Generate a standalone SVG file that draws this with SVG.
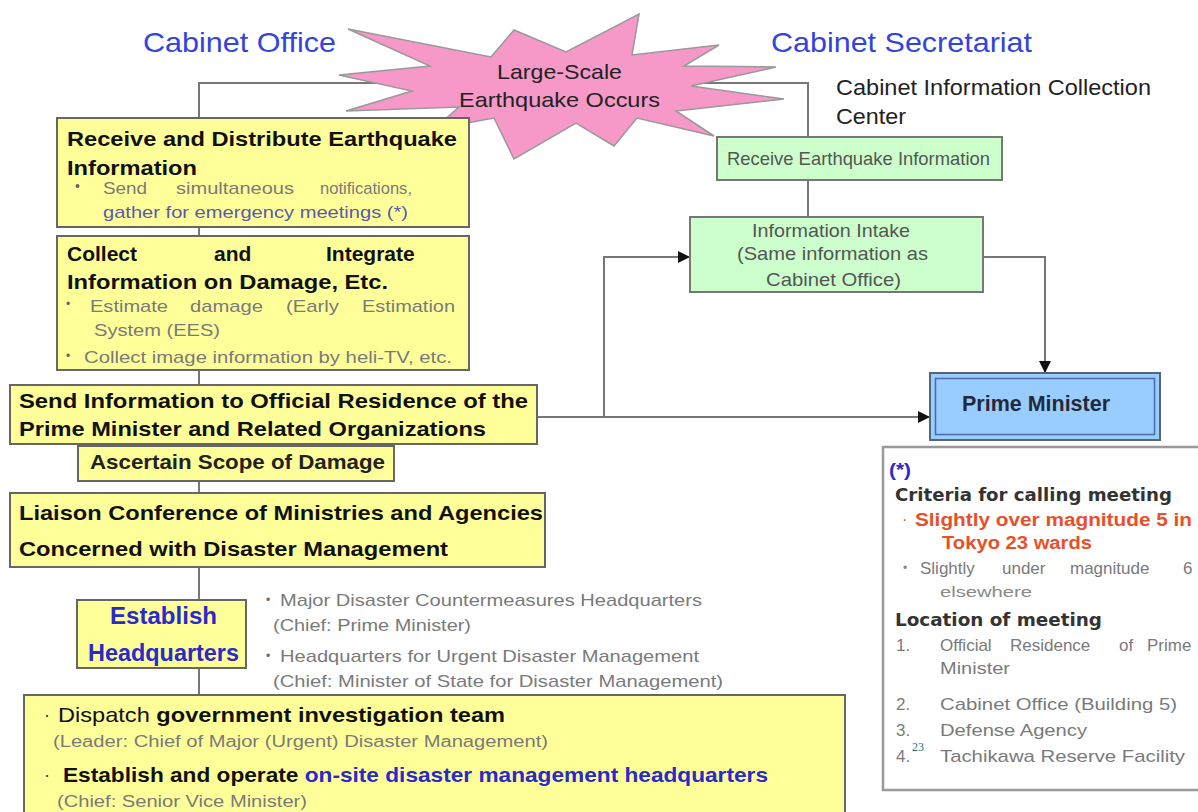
<svg xmlns="http://www.w3.org/2000/svg" width="1198" height="812" viewBox="0 0 1198 812">
<defs>
<marker id="arr" viewBox="0 0 12 12" refX="11" refY="6" markerWidth="12" markerHeight="12" markerUnits="userSpaceOnUse" orient="auto">
<path d="M0,0 L12,6 L0,12 Z" fill="#111"/>
</marker>
</defs>
<style>
text{font-family:"Liberation Sans",Arial,sans-serif}
.yb{fill:#ffff99;stroke:#666;stroke-width:2}
.gb{fill:#ccffcc;stroke:#777;stroke-width:2}
.h{font-size:21px;font-weight:bold;fill:#111}
.g{font-size:17px;fill:#7a7a7a}
.gs{font-size:16px;fill:#7a7a7a}
.hd{font-size:28px;fill:#3344dd}
.gt{font-size:19px;fill:#555}
.nb{font-family:"DejaVu Sans",Verdana,sans-serif;font-size:17px;font-weight:bold;fill:#333}
.con{fill:none;stroke:#777;stroke-width:2}
.blue{fill:#2a2acc}
.red{fill:#e8502a}
</style>
<rect width="1198" height="812" fill="#fff"/>

<g id="connectors">
<path class="con" d="M420,83 H199 V695"/>
<path class="con" d="M700,83 H808 V138"/>
<path class="con" d="M808,180 V217"/>
<path class="con" d="M983,257 H1045 V372" marker-end="url(#arr)"/>
<path class="con" d="M537,417 H929" marker-end="url(#arr)"/>
<path class="con" d="M604,417 V257 H689" marker-end="url(#arr)"/>
</g>

<g id="title-cabinet-office"><text class="hd" x="143" y="52" textLength="193" lengthAdjust="spacingAndGlyphs">Cabinet Office</text></g>
<g id="title-cabinet-secretariat"><text class="hd" x="771" y="52" textLength="261" lengthAdjust="spacingAndGlyphs">Cabinet Secretariat</text></g>

<g id="quake">
<polygon points="348,29 491,57 514,30 566,52 639,14 632,55 719,45 684,66 776,67 691,86 784,99 676,111 714,136 637,118 614,146 576,123 514,159 494,118 434,129 459,107 346,111 412,91 339,75 430,66" fill="#f799c8" stroke="#999" stroke-width="1.5"/>
<text x="497" y="79" font-size="21" fill="#222" textLength="125" lengthAdjust="spacingAndGlyphs">Large-Scale</text>
<text x="459" y="107" font-size="21" fill="#222" textLength="201" lengthAdjust="spacingAndGlyphs">Earthquake Occurs</text>
</g>

<g id="ciccc">
<text x="836" y="95" font-size="22" fill="#222" textLength="315" lengthAdjust="spacingAndGlyphs">Cabinet Information Collection</text>
<text x="836" y="124" font-size="22" fill="#222" textLength="70" lengthAdjust="spacingAndGlyphs">Center</text>
</g>

<g id="receive-distribute">
<rect class="yb" x="57" y="118" width="412" height="109"/>
<text class="h" x="67" y="146" textLength="390" lengthAdjust="spacingAndGlyphs">Receive and Distribute Earthquake</text>
<text class="h" x="67" y="175" textLength="130" lengthAdjust="spacingAndGlyphs">Information</text>
<text x="75" y="191" font-size="14" fill="#666">•</text>
<text class="g" x="103" y="194" textLength="44" lengthAdjust="spacingAndGlyphs">Send</text>
<text class="g" x="176" y="194" textLength="118" lengthAdjust="spacingAndGlyphs">simultaneous</text>
<text class="g" x="320" y="194" textLength="92" lengthAdjust="spacingAndGlyphs">notifications,</text>
<text class="g" x="103" y="218" style="fill:#5a5aaa" textLength="305" lengthAdjust="spacingAndGlyphs">gather for emergency meetings (*)</text>
</g>

<g id="collect-integrate">
<rect class="yb" x="57" y="236" width="412" height="134"/>
<text class="h" y="261"><tspan x="67">Collect</tspan><tspan x="214">and</tspan><tspan x="326">Integrate</tspan></text>
<text class="h" x="67" y="289" textLength="321" lengthAdjust="spacingAndGlyphs">Information on Damage, Etc.</text>
<text x="66" y="308" font-size="12" fill="#666">•</text>
<text class="g" x="90" y="312" textLength="78" lengthAdjust="spacingAndGlyphs">Estimate</text>
<text class="g" x="190" y="312" textLength="73" lengthAdjust="spacingAndGlyphs">damage</text>
<text class="g" x="286" y="312" textLength="53" lengthAdjust="spacingAndGlyphs">(Early</text>
<text class="g" x="362" y="312" textLength="93" lengthAdjust="spacingAndGlyphs">Estimation</text>
<text class="g" x="94" y="336" textLength="126" lengthAdjust="spacingAndGlyphs">System (EES)</text>
<text x="66" y="360" font-size="12" fill="#666">•</text>
<text class="g" x="84" y="363" textLength="368" lengthAdjust="spacingAndGlyphs">Collect image information by heli-TV, etc.</text>
</g>

<g id="send-info">
<rect class="yb" x="10" y="385" width="527" height="59"/>
<text class="h" x="19" y="408" textLength="509" lengthAdjust="spacingAndGlyphs">Send Information to Official Residence of the</text>
<text class="h" x="19" y="436" textLength="467" lengthAdjust="spacingAndGlyphs">Prime Minister and Related Organizations</text>
</g>

<g id="ascertain">
<rect class="yb" x="78" y="446" width="316" height="35"/>
<text x="90" y="469" font-size="21" font-weight="bold" fill="#222" textLength="295" lengthAdjust="spacingAndGlyphs">Ascertain Scope of Damage</text>
</g>

<g id="liaison">
<rect class="yb" x="10" y="493" width="535" height="74"/>
<text class="h" x="19" y="520" textLength="524" lengthAdjust="spacingAndGlyphs">Liaison Conference of Ministries and Agencies</text>
<text class="h" x="19" y="556" textLength="429" lengthAdjust="spacingAndGlyphs">Concerned with Disaster Management</text>
</g>

<g id="establish-hq">
<rect class="yb" x="77" y="600" width="169" height="68"/>
<text x="110" y="624" font-size="23" font-weight="bold" class="blue" textLength="107" lengthAdjust="spacingAndGlyphs">Establish</text>
<text x="88" y="661" font-size="23" font-weight="bold" class="blue" textLength="151" lengthAdjust="spacingAndGlyphs">Headquarters</text>
</g>

<g id="hq-types">
<text x="266" y="604" font-size="12" fill="#666">•</text>
<text class="g" x="280" y="606" textLength="422" lengthAdjust="spacingAndGlyphs">Major Disaster Countermeasures Headquarters</text>
<text class="g" x="273" y="631" textLength="198" lengthAdjust="spacingAndGlyphs">(Chief: Prime Minister)</text>
<text x="266" y="660" font-size="12" fill="#666">•</text>
<text class="g" x="280" y="662" textLength="419" lengthAdjust="spacingAndGlyphs">Headquarters for Urgent Disaster Management</text>
<text class="g" x="273" y="687" textLength="450" lengthAdjust="spacingAndGlyphs">(Chief: Minister of State for Disaster Management)</text>
</g>

<g id="dispatch">
<rect class="yb" x="24" y="695" width="821" height="130"/>
<text x="44" y="721" font-size="18" fill="#333">·</text>
<text x="58" y="722" font-size="21" fill="#111" textLength="447" lengthAdjust="spacingAndGlyphs">Dispatch <tspan font-weight="bold">government investigation team</tspan></text>
<text class="gs" x="53" y="747" textLength="495" lengthAdjust="spacingAndGlyphs">(Leader: Chief of Major (Urgent) Disaster Management)</text>
<text x="44" y="781" font-size="18" fill="#333">·</text>
<text x="63" y="782" font-size="21" font-weight="bold" fill="#111" textLength="705" lengthAdjust="spacingAndGlyphs">Establish and operate <tspan class="blue">on-site disaster management headquarters</tspan></text>
<text class="gs" x="57" y="807" textLength="250" lengthAdjust="spacingAndGlyphs">(Chief: Senior Vice Minister)</text>
</g>

<g id="receive-eq-info">
<rect class="gb" x="717" y="137" width="285" height="43"/>
<text class="gt" x="727" y="165" textLength="263" lengthAdjust="spacingAndGlyphs">Receive Earthquake Information</text>
</g>

<g id="info-intake">
<rect class="gb" x="690" y="217" width="293" height="75"/>
<text class="gt" x="752" y="237" textLength="158" lengthAdjust="spacingAndGlyphs">Information Intake</text>
<text class="gt" x="737" y="260" textLength="191" lengthAdjust="spacingAndGlyphs">(Same information as</text>
<text class="gt" x="766" y="286" textLength="135" lengthAdjust="spacingAndGlyphs">Cabinet Office)</text>
</g>

<g id="prime-minister">
<rect x="930" y="373" width="230" height="67" fill="#99ccff" stroke="#55667a" stroke-width="2"/>
<rect x="935.5" y="378.5" width="219" height="56" fill="none" stroke="#4a6aa8" stroke-width="1.5"/>
<text x="962" y="411" font-size="22" font-weight="bold" fill="#222a3a" textLength="148" lengthAdjust="spacingAndGlyphs">Prime Minister</text>
</g>

<g id="note">
<rect x="883" y="447" width="325" height="343" fill="#fff" stroke="#999" stroke-width="2.5"/>
<text x="889" y="476" font-size="18" font-weight="bold" class="blue" textLength="22" lengthAdjust="spacingAndGlyphs">(*)</text>
<text class="nb" x="895" y="501" textLength="277" lengthAdjust="spacingAndGlyphs">Criteria for calling meeting</text>
<text x="902" y="525" font-size="16" class="red">·</text>
<text x="915" y="526" font-size="18" font-weight="bold" class="red" textLength="277" lengthAdjust="spacingAndGlyphs">Slightly over magnitude 5 in</text>
<text x="942" y="549" font-size="18" font-weight="bold" class="red" textLength="150" lengthAdjust="spacingAndGlyphs">Tokyo 23 wards</text>
<text x="903" y="572" font-size="12" fill="#888">•</text>
<text class="g" y="574"><tspan x="920">Slightly</tspan><tspan x="1002">under</tspan><tspan x="1070">magnitude</tspan><tspan x="1183">6</tspan></text>
<text x="940" y="597" font-size="15" fill="#888" textLength="92" lengthAdjust="spacingAndGlyphs">elsewhere</text>
<text class="nb" x="895" y="626" textLength="207" lengthAdjust="spacingAndGlyphs">Location of meeting</text>
<text class="g" x="896" y="651">1.</text>
<text class="g" y="651"><tspan x="940">Official</tspan><tspan x="1010">Residence</tspan><tspan x="1119">of</tspan><tspan x="1147">Prime</tspan></text>
<text class="g" x="940" y="674" textLength="70" lengthAdjust="spacingAndGlyphs">Minister</text>
<text class="g" x="896" y="710">2.</text>
<text class="g" x="940" y="710" textLength="237" lengthAdjust="spacingAndGlyphs">Cabinet Office (Building 5)</text>
<text class="g" x="896" y="736">3.</text>
<text class="g" x="940" y="736" textLength="147" lengthAdjust="spacingAndGlyphs">Defense Agency</text>
<text class="g" x="896" y="762">4.</text>
<text class="g" x="940" y="762" textLength="245" lengthAdjust="spacingAndGlyphs">Tachikawa Reserve Facility</text>
<text x="912" y="751" font-size="12" fill="#2a6f8f" style="font-family:'Liberation Serif',serif">23</text>
</g>
</svg>
